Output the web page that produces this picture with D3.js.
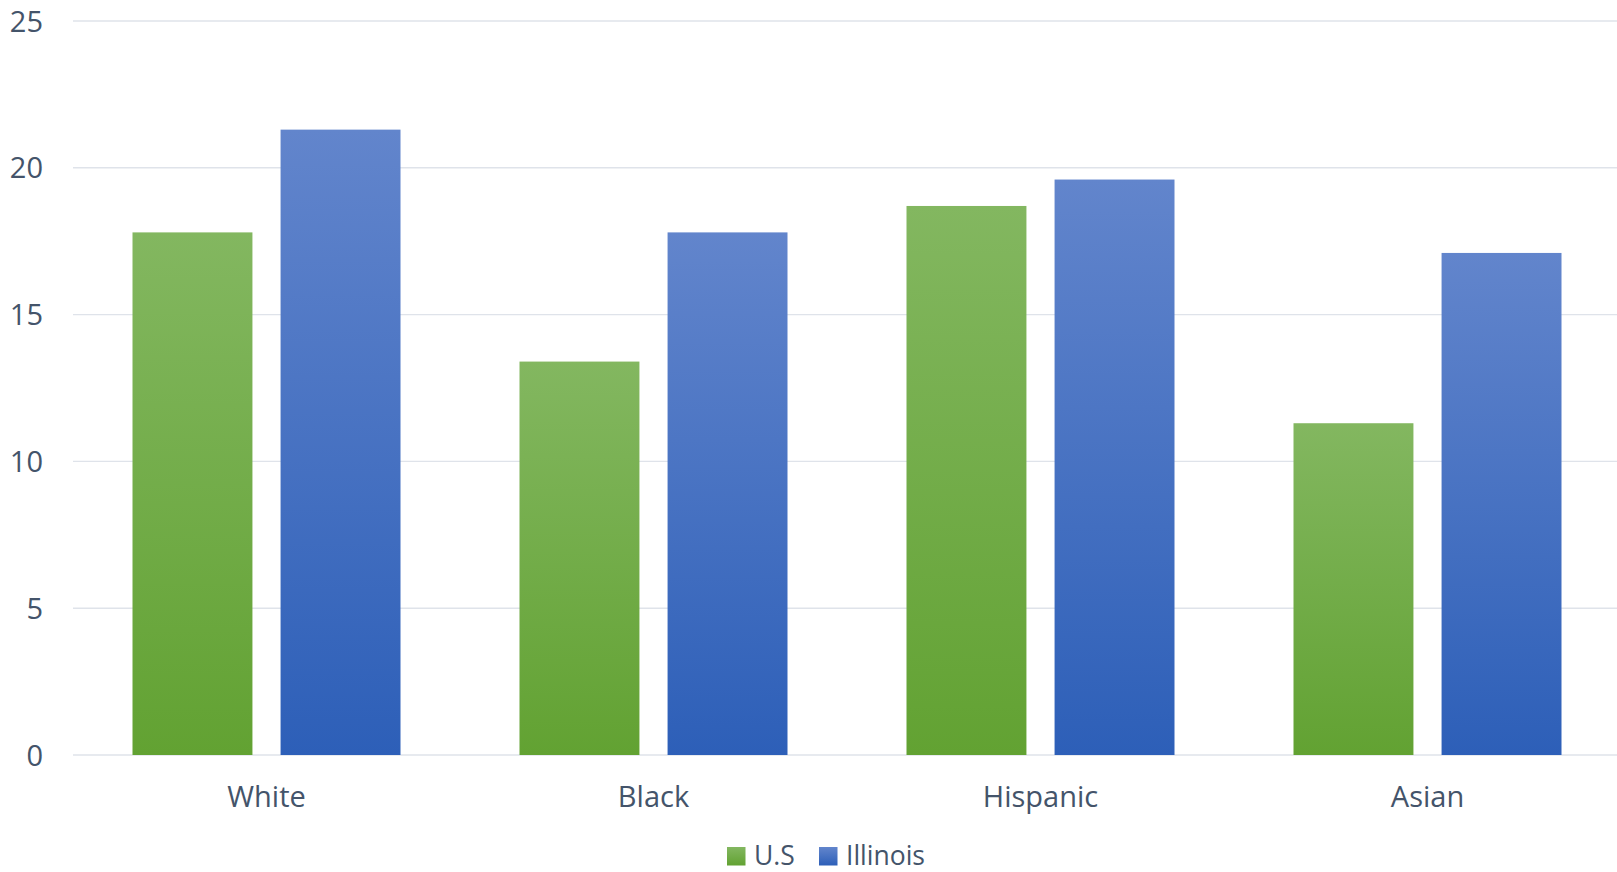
<!DOCTYPE html>
<html>
<head>
<meta charset="utf-8">
<script src="https://cdn.jsdelivr.net/npm/d3@7"></script>
<style>
  html, body { margin: 0; padding: 0; background: #fff; }
  svg { display: block; }
  text { font-family: "Open Sans", "Noto Sans", sans-serif; fill: #44546a; }
</style>
</head>
<body>
<div id="chart"></div>
<script>
const categories = ["White", "Black", "Hispanic", "Asian"]
const seriesNames = ["U.S", "Illinois"]
const usValues = [17.8, 13.4, 18.7, 11.3]
const illinoisValues = [21.3, 17.8, 19.6, 17.1]
const yTicks = [0, 5, 10, 15, 20, 25]

const width = 1617
const height = 872
const margin = { top: 21, right: -4, bottom: 117, left: 73 }

const rows = categories.map((c, i) => ({
  category: c,
  values: [
    { series: "U.S", value: usValues[i] },
    { series: "Illinois", value: illinoisValues[i] }
  ]
}))

const svg = d3.select("#chart")
  .append("svg")
  .attr("width", width)
  .attr("height", height)

// Gradients like the Excel fill
const defs = svg.append("defs")
const grads = {
  "U.S": ["#83b760", "#62a232"],
  "Illinois": ["#6285cc", "#2d5fb8"]
}
Object.entries(grads).forEach(([name, [top, bottom]], i) => {
  const g = defs.append("linearGradient")
    .attr("id", "grad" + i)
    .attr("x1", 0).attr("y1", 0)
    .attr("x2", 0).attr("y2", 1)
  g.append("stop").attr("offset", "0%").attr("stop-color", top)
  g.append("stop").attr("offset", "100%").attr("stop-color", bottom)
})
const fillFor = s => `url(#grad${seriesNames.indexOf(s)})`

const x0 = d3.scaleBand()
  .domain(categories)
  .range([margin.left, width - margin.right])
  .paddingInner(0)
  .paddingOuter(0)

const groupPad = 59.5
const x1 = d3.scaleBand()
  .domain(seriesNames)
  .range([groupPad, x0.bandwidth() - groupPad])
  .paddingInner(0.19)

const y = d3.scaleLinear()
  .domain([0, 25])
  .range([height - margin.bottom, margin.top])

// Gridlines
svg.append("g")
  .selectAll("line")
  .data(yTicks)
  .join("line")
  .attr("x1", margin.left)
  .attr("x2", width)
  .attr("y1", d => y(d))
  .attr("y2", d => y(d))
  .attr("stroke", "#dfe3ea")
  .attr("stroke-width", 1.4)

// Y axis labels
const yAxis = svg.append("g")
  .attr("transform", `translate(${margin.left - 30},0)`)
  .call(d3.axisLeft(y).tickValues(yTicks).tickSize(0).tickPadding(0))
yAxis.select(".domain").remove()
yAxis.selectAll("text")
  .attr("font-size", 29)
  .attr("font-family", null)
  .attr("fill", null)
  .attr("dy", "0.35em")

// Bars
svg.append("g")
  .selectAll("g")
  .data(rows)
  .join("g")
  .attr("transform", d => `translate(${x0(d.category)},0)`)
  .selectAll("rect")
  .data(d => d.values)
  .join("rect")
  .attr("x", d => x1(d.series))
  .attr("width", x1.bandwidth())
  .attr("y", d => y(d.value))
  .attr("height", d => y(0) - y(d.value))
  .attr("fill", d => fillFor(d.series))

// X axis labels
const xAxis = svg.append("g")
  .attr("transform", `translate(0,${y(0)})`)
  .call(d3.axisBottom(x0).tickSize(0).tickPadding(0))
xAxis.select(".domain").remove()
xAxis.selectAll("text")
  .attr("font-size", 29)
  .attr("font-family", null)
  .attr("fill", null)
  .attr("y", 52)
  .attr("dy", 0)

// Legend (kept just inside the bottom edge)
const legendItems = [
  { name: "U.S", x: 727, textX: 754 },
  { name: "Illinois", x: 819, textX: 846 }
]
const legend = svg.append("g")
legendItems.forEach(d => {
  legend.append("rect")
    .attr("x", d.x)
    .attr("y", 847)
    .attr("width", 18.5)
    .attr("height", 18.5)
    .attr("fill", fillFor(d.name))
  legend.append("text")
    .attr("x", d.textX)
    .attr("y", 864.5)
    .attr("font-size", 26.5)
    .text(d.name)
})
</script>
</body>
</html>
